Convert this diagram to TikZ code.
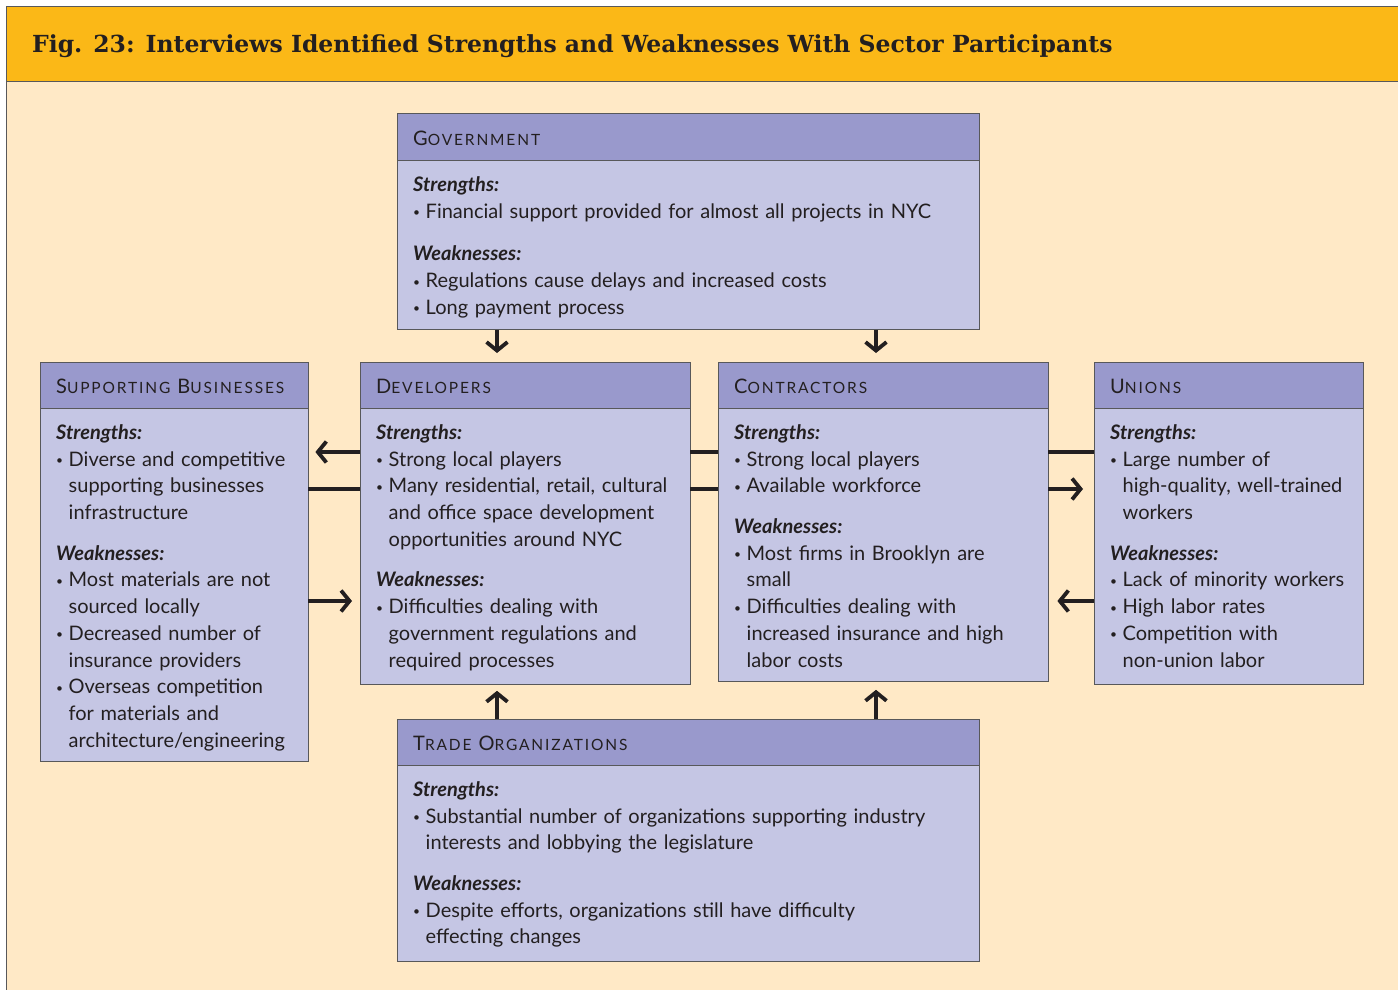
\documentclass[tikz,border=0pt]{standalone}
\usepackage{fontspec}
\setmainfont{Lato}
\newfontfamily\titlefont{DejaVu Serif}
\newfontfamily\capsfont[LetterSpace=12]{Lato}
\usetikzlibrary{arrows.meta}

\definecolor{barfill}{HTML}{FBB817}
\definecolor{pagefill}{HTML}{FFE9C6}
\definecolor{hdrfill}{HTML}{9999CC}
\definecolor{bdyfill}{HTML}{C5C6E4}
\definecolor{boxline}{HTML}{58585A}
\definecolor{ink}{HTML}{231F20}

\newcommand{\bodyfont}{\fontsize{20}{26.7}\selectfont}
\newcommand{\hcap}[2]{{\capsfont\fontsize{20}{24}\selectfont #1}{\capsfont\fontsize{15.5}{24}\selectfont\MakeUppercase{#2}}}
\newcommand{\sect}[1]{\textbf{\textit{#1}}\par}
\newcommand{\itm}[1]{\hangindent=12.5pt\hangafter=1\makebox[12.5pt][l]{\raisebox{1.5pt}{\fontsize{12}{12}\selectfont\textbullet}}#1\par}
\newcommand{\gap}{\vspace{14pt}}

\begin{document}
\begin{tikzpicture}[x=1pt,y=-1pt,
  hdr/.style={draw=boxline, fill=hdrfill, anchor=north west, minimum height=46pt,
    inner xsep=16pt, inner ysep=0pt, text width=#1, align=left, text=ink,
    execute at begin node=\rule{0pt}{17pt}},
  bdy/.style 2 args={draw=boxline, fill=bdyfill, anchor=north west,
    minimum width=#1, minimum height=#2, inner sep=0pt},
  txt/.style={anchor=north west, inner sep=0pt, text width=#1, align=left,
    text=ink, font=\bodyfont},
  link/.style={draw=ink, line width=3.8pt},
  arr/.style={link, -{Straight Barb[length=8.5pt,width=21pt]}},
]
  \useasboundingbox (0,0) rectangle (1398,990);
  % page and title bar
  \fill[white] (0,0) rectangle (1398,990);
  \filldraw[fill=pagefill, draw=boxline] (6,81) rectangle (1400,995);
  \filldraw[fill=barfill, draw=boxline] (6,6) rectangle (1400,81);
  \node[anchor=base west, inner sep=0pt, text=ink, font=\titlefont\bfseries\fontsize{23.5}{26}\selectfont]
    (title) at (32,53) {Fig. 23: Interviews Identified Strengths and Weaknesses With Sector Participants};

  % government
  \node[hdr=550pt, minimum height=47pt] (govhdr) at (397,113) {\hcap{G}{overnment}};
  \node[bdy={582pt}{169pt}] (govbody) at (govhdr.south west) {};
  \node[txt=550pt] (govtxt) at ([shift={(16,16)}]govbody.north west) {%
    \sect{Strengths:}
    \itm{Financial support provided for almost all projects in NYC}
    \vspace{16pt}\sect{Weaknesses:}
    \itm{Regulations cause delays and increased costs}
    \itm{Long payment process}};

  % supporting businesses
  \node[hdr=236pt] (suphdr) at (40,362) {\hcap{S}{upporting}\hspace{7pt}\hcap{B}{usinesses}};
  \node[bdy={268pt}{353pt}] (supbody) at (suphdr.south west) {};
  \node[txt=244pt] (suptxt) at ([shift={(16,16)}]supbody.north west) {%
    \sect{Strengths:}
    \itm{Diverse and competitive\newline supporting businesses\newline infrastructure}
    \gap\sect{Weaknesses:}
    \itm{Most materials are not\newline sourced locally}
    \itm{Decreased number of\newline insurance providers}
    \itm{Overseas competition\newline for materials and\newline architecture/engineering}};

  % developers
  \node[hdr=298pt] (devhdr) at (360,362) {\hcap{D}{evelopers}};
  \node[bdy={330pt}{276pt}] (devbody) at (devhdr.south west) {};
  \node[txt=306pt] (devtxt) at ([shift={(16,16)}]devbody.north west) {%
    \sect{Strengths:}
    \itm{Strong local players}
    \itm{Many residential, retail, cultural\newline and office space development\newline opportunities around NYC}
    \gap\sect{Weaknesses:}
    \itm{Difficulties dealing with\newline government regulations and\newline required processes}};

  % contractors
  \node[hdr=298pt] (conhdr) at (718,362) {\hcap{C}{ontractors}};
  \node[bdy={330pt}{273pt}] (conbody) at (conhdr.south west) {};
  \node[txt=306pt] (contxt) at ([shift={(16,16)}]conbody.north west) {%
    \sect{Strengths:}
    \itm{Strong local players}
    \itm{Available workforce}
    \gap\sect{Weaknesses:}
    \itm{Most firms in Brooklyn are\newline small}
    \itm{Difficulties dealing with\newline increased insurance and high\newline labor costs}};

  % unions
  \node[hdr=237pt] (unihdr) at (1094,362) {\hcap{U}{nions}};
  \node[bdy={269pt}{276pt}] (unibody) at (unihdr.south west) {};
  \node[txt=245pt] (unitxt) at ([shift={(16,16)}]unibody.north west) {%
    \sect{Strengths:}
    \itm{Large number of\newline high-quality, well-trained\newline workers}
    \gap\sect{Weaknesses:}
    \itm{Lack of minority workers}
    \itm{High labor rates}
    \itm{Competition with\newline non-union labor}};

  % trade organizations
  \node[hdr=550pt] (trahdr) at (397,719) {\hcap{T}{rade}\hspace{7pt}\hcap{O}{rganizations}};
  \node[bdy={582pt}{196pt}] (trabody) at (trahdr.south west) {};
  \node[txt=558pt] (tratxt) at ([shift={(16,16)}]trabody.north west) {%
    \sect{Strengths:}
    \itm{Substantial number of organizations supporting industry\newline interests and lobbying the legislature}
    \gap\sect{Weaknesses:}
    \itm{Despite efforts, organizations still have difficulty\newline effecting changes}};

  % levels of the side links
  \coordinate (lvla) at (0,452);
  \coordinate (lvlb) at (0,489);
  \coordinate (lvlc) at (0,601);
  \coordinate (colw) at (497,0);
  \coordinate (cole) at (876,0);

  % government and trade organizations to developers and contractors
  \draw[arr, shorten >=9pt] (govbody.south -| colw) -- (devhdr.north -| colw);
  \draw[arr, shorten >=9pt] (govbody.south -| cole) -- (conhdr.north -| cole);
  \draw[arr, shorten >=6pt] (trahdr.north -| colw) -- (devbody.south -| colw);
  \draw[arr, shorten >=8pt] (trahdr.north -| cole) -- (conbody.south -| cole);

  % supporting businesses and developers
  \draw[arr, shorten >=7pt] (devbody.west |- lvla) -- (supbody.east |- lvla);
  \draw[link] (supbody.east |- lvlb) -- (devbody.west |- lvlb);
  \draw[arr, shorten >=8pt] (supbody.east |- lvlc) -- (devbody.west |- lvlc);

  % developers and contractors
  \draw[link] (devbody.east |- lvla) -- (conbody.west |- lvla);
  \draw[link] (devbody.east |- lvlb) -- (conbody.west |- lvlb);

  % contractors and unions
  \draw[link] (conbody.east |- lvla) -- (unibody.west |- lvla);
  \draw[arr, shorten >=11pt] (conbody.east |- lvlb) -- (unibody.west |- lvlb);
  \draw[arr, shorten >=9pt] (unibody.west |- lvlc) -- (conbody.east |- lvlc);
\end{tikzpicture}
\end{document}
